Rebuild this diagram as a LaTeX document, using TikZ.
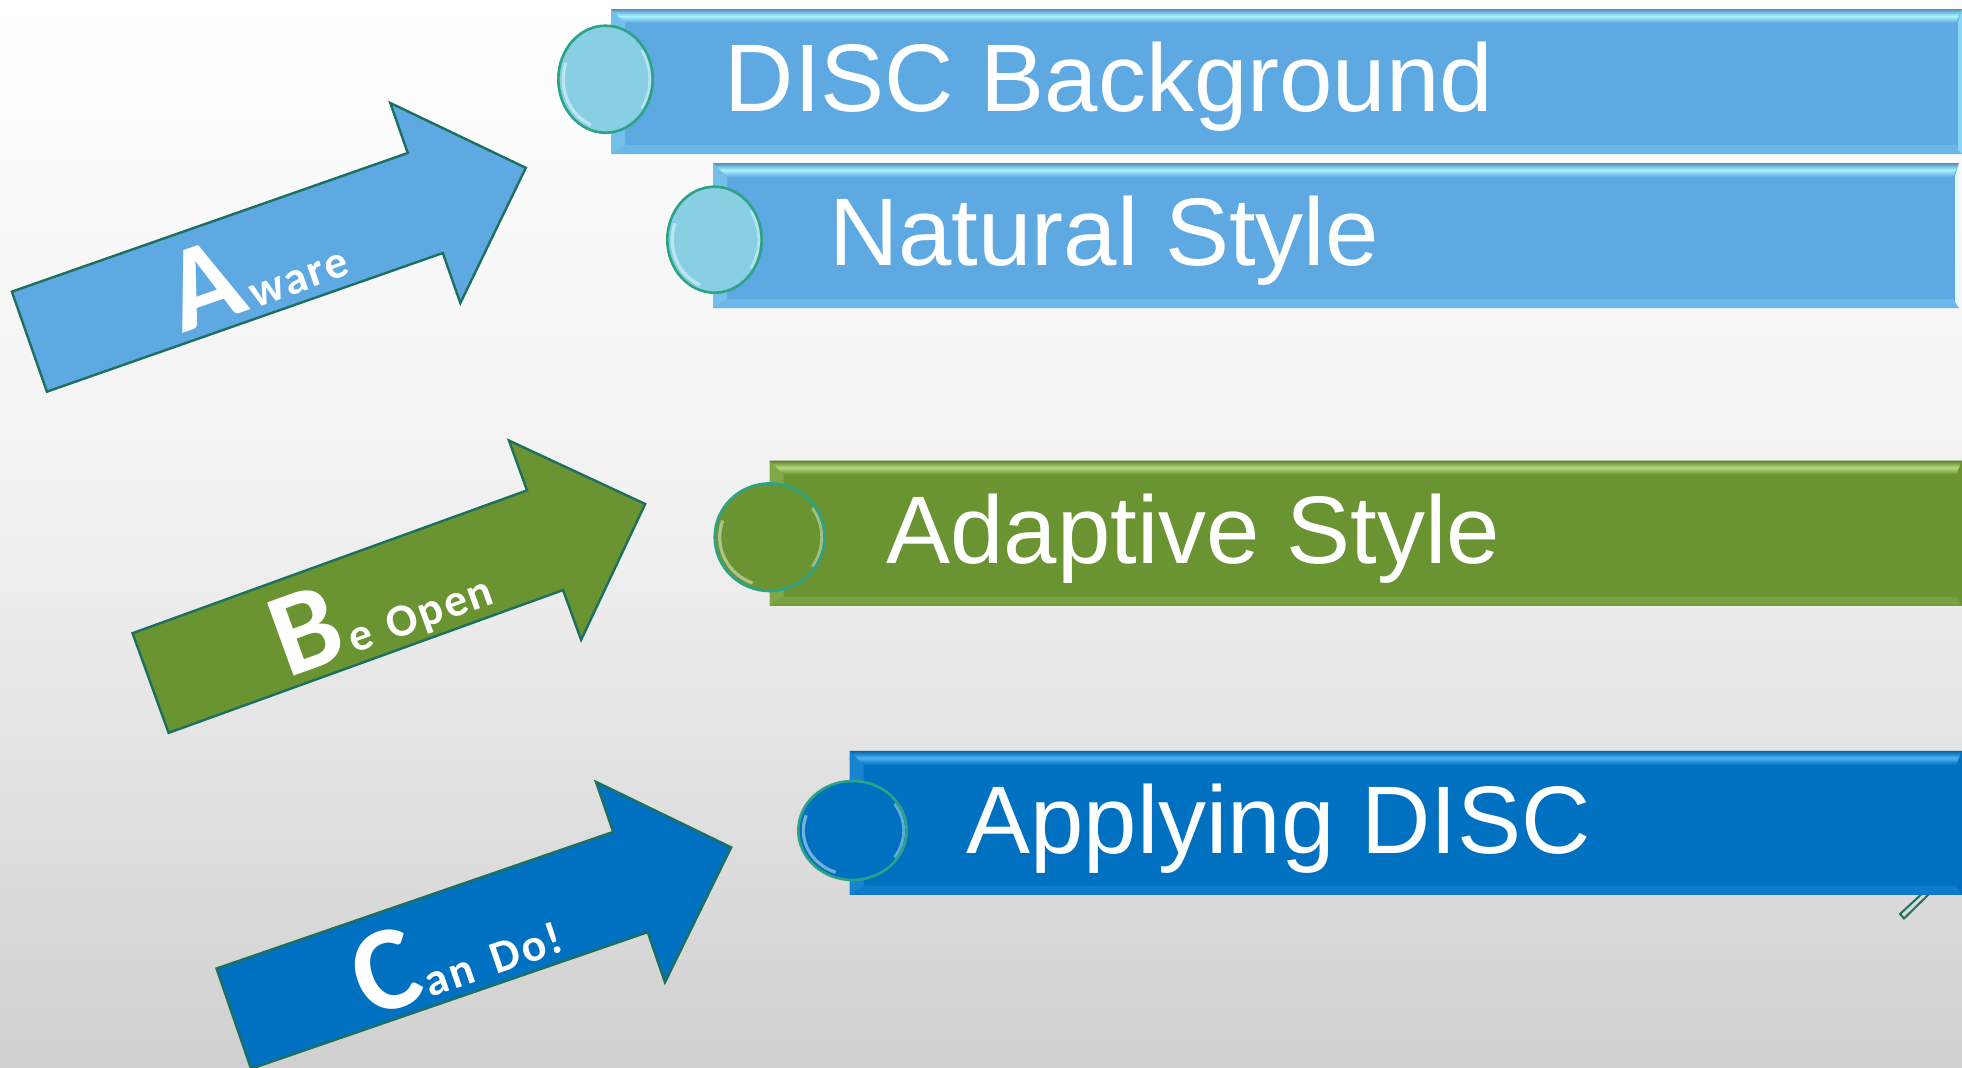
\documentclass[tikz,border=0pt]{standalone}
\usepackage{fontspec}
\setmainfont{Liberation Sans}
\newfontfamily\arrowfont{Carlito}
\newfontfamily\arrowsmall{Carlito}[LetterSpace=5.0]
\usetikzlibrary{calc}
\definecolor{bgtop}{HTML}{FFFFFF}
\definecolor{bgmid}{HTML}{F0F0F0}
\definecolor{bgbot}{HTML}{D0D0D0}
\definecolor{lblue}{HTML}{5EA9E1}
\definecolor{lbluehi}{HTML}{A8F4FF}
\definecolor{mygreen}{HTML}{6A9332}
\definecolor{mygreenhi}{HTML}{B4DA7C}
\definecolor{dblue}{HTML}{0070C0}
\definecolor{dbluehi}{HTML}{4CB4F4}
\definecolor{outl}{HTML}{1D7060}
\definecolor{ring}{HTML}{2BA386}
\definecolor{cyanfill}{HTML}{88CFE3}
\newcommand\BigLetter[1]{{\arrowfont\bfseries\fontsize{60}{60}\selectfont #1}}
\newcommand\SmallWord[1]{{\arrowsmall\bfseries\fontsize{23}{23}\selectfont #1}}
\tikzset{
  arrowshape/.style={draw=outl, line width=1.2pt, line join=miter},
  arrowtext/.style={text=white, inner sep=0pt, anchor=base west, transform shape},
  boxtext/.style={font=\fontsize{48}{48}\selectfont, text=white, inner sep=0pt, anchor=base west},
  ringstyle/.style={draw=ring, line width=1.3pt},
}
% #1 left, #2 top, #3 right, #4 bottom, #5 body colour, #6 highlight colour
\newcommand\drawbevelbox[6]{%
  \fill[#5] (#1,#2) rectangle (#3,#4);
  \fill[#6!30!#5] (#1,#2) -- (#1+14,#2+14) -- (#1+14,#4-9) -- (#1,#4) -- cycle;
  \fill[#6!18!#5] (#1,#4) -- (#1+14,#4-9) -- (#3-6,#4-9) -- (#3,#4) -- cycle;
  \shade[top color=#5!85!black, bottom color=#5, middle color=#6] (#1,#2) -- (#3,#2) -- (#3-6,#2+14) -- (#1+14,#2+14) -- cycle;
}
% #1 cx, #2 cy, #3 rx, #4 ry, #5 fill
\newcommand\drawdisc[5]{%
  \fill[#5] (#1,#2) ellipse [x radius=#3, y radius=#4];
  \draw[white, opacity=.45, line width=1.6pt] (#1,#2) ++(110:{#3-5} and {#4-5}) arc[start angle=110, end angle=200, x radius={#3-5}, y radius={#4-5}];
  \draw[white, opacity=.4, line width=1.4pt] (#1,#2) ++(-35:{#3-3} and {#4-3}) arc[start angle=-35, end angle=35, x radius={#3-3}, y radius={#4-3}];
  \draw[ringstyle] (#1,#2) ellipse [x radius=#3, y radius=#4];
}
\begin{document}
\begin{tikzpicture}[x=0.5pt,y=-0.5pt]
\useasboundingbox (0,0) rectangle (1962,1067);
\shade[top color=bgtop, bottom color=bgbot, middle color=bgmid] (0,0) rectangle (1962,1067);

% arrow A
\begin{scope}[shift={(29.4,341.65)}, rotate=19.3]
  \draw[arrowshape, fill=lblue] (0,-53) -- (419.5,-53) -- (419.5,-106) -- (526,0) -- (419.5,106) -- (419.5,53) -- (0,53) -- cycle;
  \node[arrowtext] (labA) at (147,43) {\BigLetter{A}\SmallWord{\kern2pt ware}};
\end{scope}

% arrow B
\begin{scope}[shift={(150.6,683)}, rotate=19.9]
  \draw[arrowshape, fill=mygreen] (0,-53) -- (419.5,-53) -- (419.5,-106) -- (526,0) -- (419.5,106) -- (419.5,53) -- (0,53) -- cycle;
  \node[arrowtext] (labB) at (130,42) {\BigLetter{B}\SmallWord{\kern2pt e\hspace{8.5pt}Open}};
\end{scope}

% arrow C
\begin{scope}[shift={(233.8,1018.6)}, rotate=19]
  \draw[arrowshape, fill=dblue] (0,-53) -- (419.5,-53) -- (419.5,-106) -- (526,0) -- (419.5,106) -- (419.5,53) -- (0,53) -- cycle;
  \node[arrowtext] (labC) at (127,44) {\BigLetter{C}\SmallWord{\kern1pt an\hspace{10pt}Do!}};
\end{scope}

% stray outline behind the last box
\draw[outl, line width=1pt] (1927,889) -- (1900,914) -- (1904,918.5) -- (1931,892);

% boxes
\drawbevelbox{611}{9}{1962}{154}{lblue}{lbluehi}
\fill[lbluehi!60!lblue] (1962,9) -- (1962,154) -- (1958,149) -- (1958,22) -- cycle;
\drawbevelbox{713}{163}{1959}{308}{lblue}{lbluehi}
\fill[white!70!lbluehi] (1959,163) -- (1959,308) -- (1955,302) -- (1955,176) -- cycle;
\drawbevelbox{769.5}{460.5}{1962}{605.5}{mygreen}{mygreenhi}
\drawbevelbox{849.6}{750.8}{1962}{894.5}{dblue}{dbluehi}

% discs
\drawdisc{605.5}{79.2}{47.2}{53.5}{cyanfill}
\drawdisc{714.5}{239.7}{47.2}{53}{cyanfill}
\drawdisc{769.7}{537.2}{55}{53.8}{mygreen}
\drawdisc{852.5}{830.5}{54.2}{49.5}{dblue}

% box texts
\node[boxtext] (t1) at (724.4,111) {DISC Background};
\node[boxtext] (t2) at (828.7,265.7) {Natural Style};
\node[boxtext] (t3) at (886,563) {Adaptive Style};
\node[boxtext] (t4) at (966,853.3) {Applying DISC};
\end{tikzpicture}
\end{document}
